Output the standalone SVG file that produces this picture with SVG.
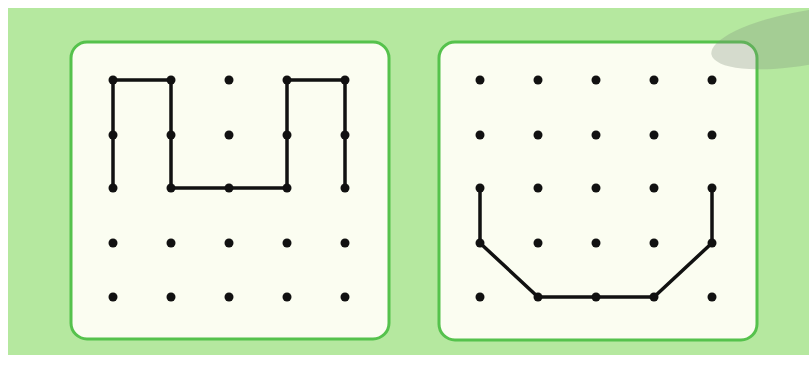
<svg xmlns="http://www.w3.org/2000/svg" width="809" height="365" viewBox="0 0 809 365">
<defs>
<style>
.bg{fill:#b5e89f}
.panel{fill:#fbfdf1;stroke:#55c24c;stroke-width:3}
.dot{fill:#111}
.line{fill:none;stroke:#111;stroke-width:3.5;stroke-linejoin:round;stroke-linecap:round}
</style>
</defs>
<rect width="809" height="365" fill="#ffffff"/>
<rect class="bg" x="8" y="8" width="801" height="347"/>
<g id="panel-left">
<rect class="panel" x="71" y="42" width="318" height="297" rx="16"/>
<g id="grid-left">
<circle class="dot" cx="113" cy="80" r="4.5"/><circle class="dot" cx="171" cy="80" r="4.5"/><circle class="dot" cx="229" cy="80" r="4.5"/><circle class="dot" cx="287" cy="80" r="4.5"/><circle class="dot" cx="345" cy="80" r="4.5"/>
<circle class="dot" cx="113" cy="135" r="4.5"/><circle class="dot" cx="171" cy="135" r="4.5"/><circle class="dot" cx="229" cy="135" r="4.5"/><circle class="dot" cx="287" cy="135" r="4.5"/><circle class="dot" cx="345" cy="135" r="4.5"/>
<circle class="dot" cx="113" cy="188" r="4.5"/><circle class="dot" cx="171" cy="188" r="4.5"/><circle class="dot" cx="229" cy="188" r="4.5"/><circle class="dot" cx="287" cy="188" r="4.5"/><circle class="dot" cx="345" cy="188" r="4.5"/>
<circle class="dot" cx="113" cy="243" r="4.5"/><circle class="dot" cx="171" cy="243" r="4.5"/><circle class="dot" cx="229" cy="243" r="4.5"/><circle class="dot" cx="287" cy="243" r="4.5"/><circle class="dot" cx="345" cy="243" r="4.5"/>
<circle class="dot" cx="113" cy="297" r="4.5"/><circle class="dot" cx="171" cy="297" r="4.5"/><circle class="dot" cx="229" cy="297" r="4.5"/><circle class="dot" cx="287" cy="297" r="4.5"/><circle class="dot" cx="345" cy="297" r="4.5"/>
</g>
</g>
<g id="panel-right">
<rect class="panel" x="439" y="42" width="318" height="298" rx="16"/>
<g id="grid-right">
<circle class="dot" cx="480" cy="80" r="4.5"/><circle class="dot" cx="538" cy="80" r="4.5"/><circle class="dot" cx="596" cy="80" r="4.5"/><circle class="dot" cx="654" cy="80" r="4.5"/><circle class="dot" cx="712" cy="80" r="4.5"/>
<circle class="dot" cx="480" cy="135" r="4.5"/><circle class="dot" cx="538" cy="135" r="4.5"/><circle class="dot" cx="596" cy="135" r="4.5"/><circle class="dot" cx="654" cy="135" r="4.5"/><circle class="dot" cx="712" cy="135" r="4.5"/>
<circle class="dot" cx="480" cy="188" r="4.5"/><circle class="dot" cx="538" cy="188" r="4.5"/><circle class="dot" cx="596" cy="188" r="4.5"/><circle class="dot" cx="654" cy="188" r="4.5"/><circle class="dot" cx="712" cy="188" r="4.5"/>
<circle class="dot" cx="480" cy="243" r="4.5"/><circle class="dot" cx="538" cy="243" r="4.5"/><circle class="dot" cx="596" cy="243" r="4.5"/><circle class="dot" cx="654" cy="243" r="4.5"/><circle class="dot" cx="712" cy="243" r="4.5"/>
<circle class="dot" cx="480" cy="297" r="4.5"/><circle class="dot" cx="538" cy="297" r="4.5"/><circle class="dot" cx="596" cy="297" r="4.5"/><circle class="dot" cx="654" cy="297" r="4.5"/><circle class="dot" cx="712" cy="297" r="4.5"/>
</g>
</g>
<g id="connectors">
<polyline class="line" points="113,188 113,80 171,80 171,188 287,188 287,80 345,80 345,188"/>
<polyline class="line" points="480,188 480,243 538,297 654,297 712,243 712,188"/>
</g>
<ellipse cx="805" cy="38" rx="95" ry="27" transform="rotate(-10 805 38)" fill="#7f8f7a" fill-opacity="0.3"/>
</svg>
